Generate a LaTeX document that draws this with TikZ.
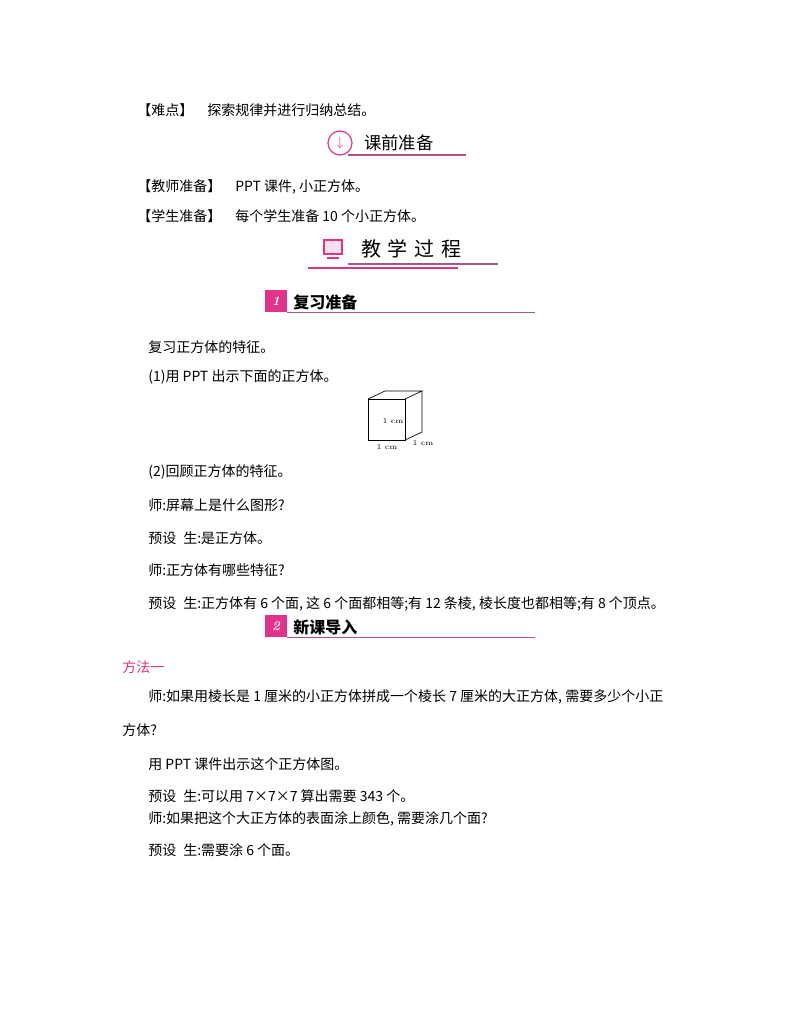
\documentclass[tikz,border=0pt]{standalone}
\usepackage{fontspec}
\setmainfont{Noto Sans CJK SC}
\newfontfamily\lmr{Latin Modern Roman}
\definecolor{pk}{HTML}{E0338A}
\definecolor{pl}{HTML}{B0527F}
\begin{document}
\begin{tikzpicture}[x=0.75pt,y=-0.75pt,
 t/.style={anchor=west,inner sep=0,font=\fontsize{10.5pt}{12pt}\selectfont},
 hd/.style={anchor=west,inner sep=0,font=\fontsize{12pt}{14pt}\selectfont\bfseries},
 ln/.style={pl,line width=0.8pt}]
\useasboundingbox (0,0) rectangle (800,1028);
\node[t] (a1) at (137,110) {【难点】\quad 探索规律并进行归纳总结。};
% 课前准备
\node[circle,draw=pk,line width=0.9pt,minimum size=18pt,inner sep=0] (ic1) at (340,143) {};
\node[text=pk,font=\bfseries] at (ic1) {$\downarrow$};
\node[hd,font=\fontsize{13pt}{15pt}\selectfont] (h1) at (364,143) {课前准备};
\coordinate (h1a) at (348,155); \coordinate (h1b) at (466,155);
\draw[ln] (h1a) -- (h1b);
\node[t] (a2) at (137,187) {【教师准备】\quad PPT 课件, 小正方体。};
\node[t] (a3) at (137,216) {【学生准备】\quad 每个学生准备 10 个小正方体。};
% 教学过程
\node[draw=pk,fill=pk!15,line width=1.5pt,minimum width=14pt,minimum height=11pt,inner sep=0] (ic2) at (333,247) {};
\draw[pk,line width=1.5pt] (327,258) -- (339,258);
\node[t,font=\fontsize{15pt}{17pt}\selectfont] (h2) at (361,249) {教\,\,学\,\,过\,\,程};
\coordinate (l1a) at (348,264); \coordinate (l1b) at (498,264);
\coordinate (l2a) at (308,268); \coordinate (l2b) at (458,268);
\draw[ln] (l1a) -- (l1b); \draw[pk,line width=1.2pt] (l2a) -- (l2b);
% 复习准备
\node[fill=pk,minimum size=16pt,inner sep=0,text=white,font=\bfseries\itshape\lmr] (n1) at (276,301) {1};
\node[hd] (h3) at (293,302) {复习准备};
\coordinate (l3a) at (287,312); \coordinate (l3b) at (535,312);
\draw[ln,line width=0.6pt] (l3a) -- (l3b);
\node[t] (b1) at (148,347) {复习正方体的特征。};
\node[t] (b2) at (148,377) {(1)用 PPT 出示下面的正方体。};
% cube
\draw[line width=0.5pt] (368,399) rectangle (405,440);
\draw[line width=0.5pt] (368,399) -- (385,391) -- (422,391) -- (405,399);
\draw[line width=0.5pt] (422,391) -- (422,432) -- (405,440);
\node[font=\lmr\fontsize{5.5pt}{6pt}\selectfont,inner sep=0] (c1) at (393,421) {1 cm};
\node[font=\lmr\fontsize{5.5pt}{6pt}\selectfont,inner sep=0] (c2) at (387,447) {1 cm};
\node[font=\lmr\fontsize{5.5pt}{6pt}\selectfont,inner sep=0] (c3) at (423,443) {1 cm};
\node[t] (b3) at (148,472) {(2)回顾正方体的特征。};
\node[t] (b4) at (148,505) {师:屏幕上是什么图形?};
\node[t] (b5) at (148,538) {预设\enspace 生:是正方体。};
\node[t] (b6) at (148,570) {师:正方体有哪些特征?};
\node[t] (b7) at (148,604) {预设\enspace 生:正方体有 6 个面, 这 6 个面都相等;有 12 条棱, 棱长度也都相等;有 8 个顶点。};
% 新课导入
\node[fill=pk,minimum size=16pt,inner sep=0,text=white,font=\bfseries\itshape\lmr] (n2) at (276,626) {2};
\node[hd] (h4) at (293,627) {新课导入};
\coordinate (l4a) at (287,637); \coordinate (l4b) at (535,637);
\draw[ln,line width=0.6pt] (l4a) -- (l4b);
\node[t,text=pk] (m0) at (122,667) {方法一};
\node[t] (m1) at (148,697) {师:如果用棱长是 1 厘米的小正方体拼成一个棱长 7 厘米的大正方体, 需要多少个小正};
\node[t] (m2) at (122,730) {方体?};
\node[t] (m3) at (148,764) {用 PPT 课件出示这个正方体图。};
\node[t] (m4) at (148,796) {预设\enspace 生:可以用 7×7×7 算出需要 343 个。};
\node[t] (m5) at (148,819) {师:如果把这个大正方体的表面涂上颜色, 需要涂几个面?};
\node[t] (m6) at (148,850) {预设\enspace 生:需要涂 6 个面。};
\end{tikzpicture}
\end{document}
